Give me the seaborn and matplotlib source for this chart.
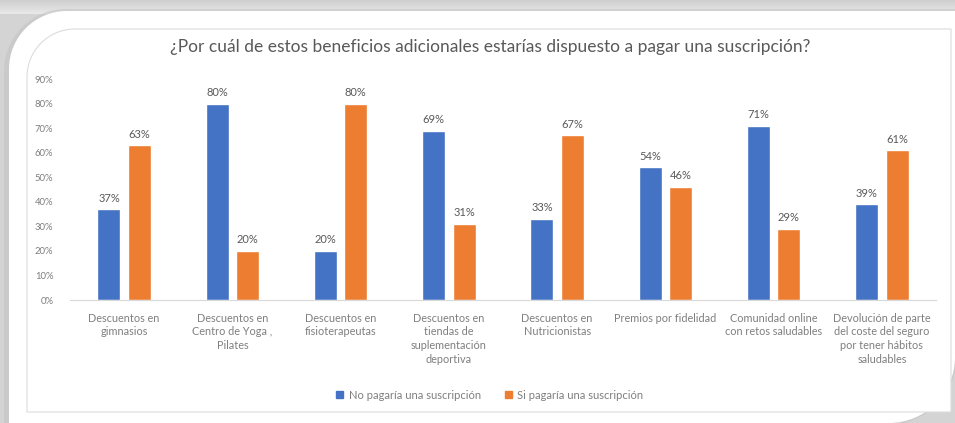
import matplotlib
matplotlib.use("Agg")
import matplotlib.pyplot as plt
from matplotlib.path import Path
from matplotlib.patches import PathPatch
import numpy as np
import pandas as pd
import seaborn as sns

title = "¿Por cuál de estos beneficios adicionales estarías dispuesto a pagar una suscripción?"
categories = [
    "Descuentos en\ngimnasios",
    "Descuentos en\nCentro de Yoga ,\nPilates",
    "Descuentos en\nfisioterapeutas",
    "Descuentos en\ntiendas de\nsuplementación\ndeportiva",
    "Descuentos en\nNutricionistas",
    "Premios por fidelidad",
    "Comunidad online\ncon retos saludables",
    "Devolución de parte\ndel coste del seguro\npor tener hábitos\nsaludables",
]
series_names = ["No pagaría una suscripción", "Si pagaría una suscripción"]
no_pagaria = [37, 80, 20, 69, 33, 54, 71, 39]
si_pagaria = [63, 20, 80, 31, 67, 46, 29, 61]
y_ticks = [0, 10, 20, 30, 40, 50, 60, 70, 80, 90]

colors = ["#4472C4", "#ED7D31"]
text_grey = "#7f7f7f"

df = pd.DataFrame({
    "categoria": categories * 2,
    "serie": [series_names[0]] * len(categories) + [series_names[1]] * len(categories),
    "valor": no_pagaria + si_pagaria,
})

sns.set_theme(style="white")
plt.rcParams["font.family"] = ["Lato", "DejaVu Sans"]

W, H = 955, 423
fig = plt.figure(figsize=(W / 100, H / 100), dpi=100)
fig.patch.set_facecolor("#d4d4d4")

# Decorative card behind the chart
bg = fig.add_axes([0, 0, 1, 1], zorder=0)
bg.set_xlim(0, W)
bg.set_ylim(H, 0)
bg.axis("off")

# soft shade band along the top
grad = np.linspace(0, 1, 64).reshape(-1, 1)
bg.imshow(grad, extent=(0, W, 0, 14), cmap=matplotlib.colors.LinearSegmentedColormap.from_list(
    "shade", ["#e9e9e9", "#cfcfcf"]), aspect="auto", zorder=0)


def rounded_card(x0, y0, x1, y1, r_tl, r_br):
    k = 0.5523
    verts = [
        (x0, y0 + r_tl),
        (x0, y0 + r_tl * (1 - k)), (x0 + r_tl * (1 - k), y0), (x0 + r_tl, y0),
        (x1, y0),
        (x1, y1 - r_br),
        (x1, y1 - r_br * (1 - k)), (x1 - r_br * (1 - k), y1), (x1 - r_br, y1),
        (x0, y1),
        (x0, y0 + r_tl),
    ]
    codes = [Path.MOVETO,
             Path.CURVE4, Path.CURVE4, Path.CURVE4,
             Path.LINETO,
             Path.LINETO,
             Path.CURVE4, Path.CURVE4, Path.CURVE4,
             Path.LINETO,
             Path.CLOSEPOLY]
    return Path(verts, codes)


# shadow, white card, then the thin inner border
bg.add_patch(PathPatch(rounded_card(4, 9, W + 2, H + 2, 62, 70),
                       facecolor="#c4c4c4", edgecolor="none", zorder=1, alpha=0.6))
bg.add_patch(PathPatch(rounded_card(9, 11, W, H, 58, 66),
                       facecolor="white", edgecolor="none", zorder=2))
bg.add_patch(PathPatch(rounded_card(27, 29, 951, 412, 48, 0.01),
                       facecolor="white", edgecolor="#dcdcdc", linewidth=0.8, zorder=3))

fig.text(490 / W, 1 - 47 / H, title, ha="center", va="center",
         fontsize=12.5, color="#595959", zorder=5)

ax = fig.add_axes([70 / W, 1 - 300 / H, 866 / W, 221 / H], zorder=4)
ax.set_facecolor("none")

sns.barplot(data=df, x="categoria", y="valor", hue="serie",
            palette=colors, width=0.56, gap=0.24, ax=ax,
            saturation=1, legend=False)

for cont in ax.containers:
    vals = [b.get_height() for b in cont]
    ax.bar_label(cont, labels=[f"{v:.0f}%" for v in vals],
                 padding=4, fontsize=8, color="#595959")

ax.set_ylim(0, 90)
ax.set_xlim(-0.5, len(categories) - 0.5)
ax.set_yticks(y_ticks)
ax.set_yticklabels([f"{t}%" for t in y_ticks], fontsize=6.8, color=text_grey)
ax.set_xticks(range(len(categories)))
ax.set_xticklabels(categories, fontsize=7.8, color=text_grey, linespacing=1.3, va="top")
ax.tick_params(axis="x", length=0, pad=9)
ax.tick_params(axis="y", length=0, pad=12)
ax.set_xlabel("")
ax.set_ylabel("")
for side in ["top", "right", "left"]:
    ax.spines[side].set_visible(False)
ax.spines["bottom"].set_color("#d9d9d9")
ax.spines["bottom"].set_linewidth(0.8)

handles = [plt.Rectangle((0, 0), 1, 1, color=c) for c in colors]
fig.legend(handles, series_names, loc="center", bbox_to_anchor=(490 / W, 1 - 395 / H),
           ncol=2, frameon=False, fontsize=8, labelcolor=text_grey,
           handlelength=0.6, handleheight=0.6, handletextpad=0.5, columnspacing=2.2)

fig.savefig("out.png", dpi=100, facecolor=fig.get_facecolor())
